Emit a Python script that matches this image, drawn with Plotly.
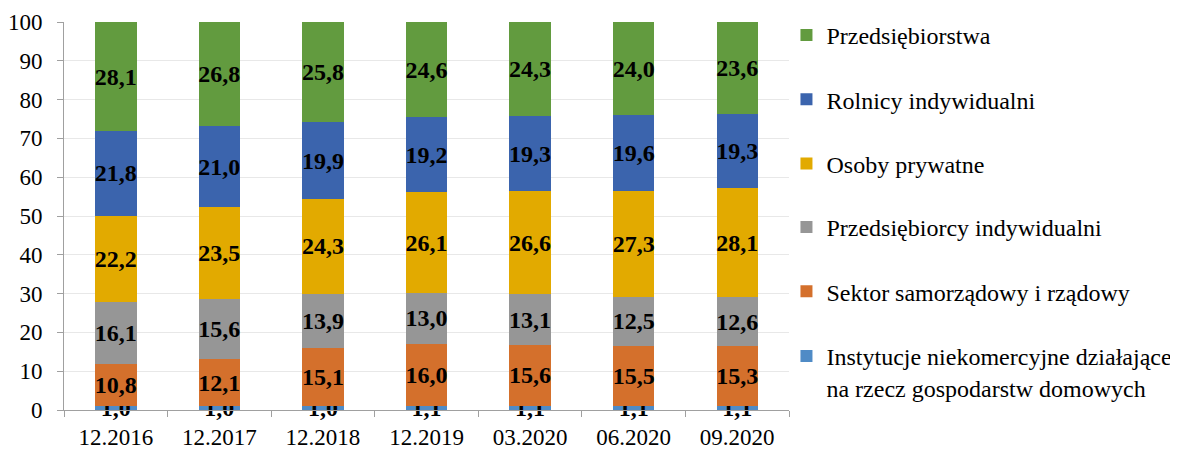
import plotly.graph_objects as go

categories = ["12.2016", "12.2017", "12.2018", "12.2019", "03.2020", "06.2020", "09.2020"]
instytucje = [1.0, 1.0, 1.0, 1.1, 1.1, 1.1, 1.1]
sektor = [10.8, 12.1, 15.1, 16.0, 15.6, 15.5, 15.3]
przedsiebiorcy = [16.1, 15.6, 13.9, 13.0, 13.1, 12.5, 12.6]
osoby = [22.2, 23.5, 24.3, 26.1, 26.6, 27.3, 28.1]
rolnicy = [21.8, 21.0, 19.9, 19.2, 19.3, 19.6, 19.3]
przedsiebiorstwa = [28.1, 26.8, 25.8, 24.6, 24.3, 24.0, 23.6]
y_ticks = [0, 10, 20, 30, 40, 50, 60, 70, 80, 90, 100]

series = [
    ("Instytucje niekomercyjne działające<br>na rzecz gospodarstw domowych", instytucje, "#4F8BC6"),
    ("Sektor samorządowy i rządowy", sektor, "#D4702C"),
    ("Przedsiębiorcy indywidualni", przedsiebiorcy, "#969696"),
    ("Osoby prywatne", osoby, "#E2AA00"),
    ("Rolnicy indywidualni", rolnicy, "#3B64AD"),
    ("Przedsiębiorstwa", przedsiebiorstwa, "#629B3F"),
]
# legend block each series is shown in (top block, middle block, bottom block)
legend_block = ["legend2", "legend3", "legend3", "legend", "legend", "legend"]

FONT = "Liberation Serif"

fig = go.Figure()
n = len(series)
for i, (name, vals, color) in enumerate(series):
    fig.add_trace(go.Bar(
        x=categories, y=vals, name=name,
        marker=dict(color=color, line=dict(width=0)),
        texttemplate="<b>%{y:.1f}</b>",
        textposition="inside", insidetextanchor="middle", textangle=0,
        constraintext="none", cliponaxis=False,
        textfont=dict(family=FONT, size=24, color="black"),
        legendgroup=f"g{i}", legendrank=n - i,
        legend=legend_block[i],
    ))

legend_common = dict(
    xanchor="left", yanchor="top", yref="container",
    traceorder="grouped", tracegroupgap=30,
    font=dict(family=FONT, size=24, color="black"),
    itemwidth=30, bgcolor="rgba(0,0,0,0)", valign="top",
)

fig.update_layout(
    barmode="stack",
    bargap=0.6,
    separators=", ",
    width=1170, height=442,
    margin=dict(l=56, r=389, t=14, b=40, autoexpand=False),
    paper_bgcolor="white", plot_bgcolor="white",
    font=dict(family=FONT, size=23, color="black"),
    showlegend=True,
    legend=dict(x=0.9965, y=0.9887, **legend_common),
    legend3=dict(x=0.9965, y=0.5543, **legend_common),
    legend2=dict(x=0.9965, y=0.2624, **legend_common),
    uniformtext=dict(mode=False),
)
fig.update_yaxes(
    range=[0, 100], tickvals=y_ticks, showgrid=True, gridcolor="#E8E8E8", gridwidth=1,
    showline=True, linecolor="#A0A0A0", ticks="outside", ticklen=6, tickcolor="#A0A0A0",
    tickfont=dict(family=FONT, size=23), zeroline=False, ticklabelstandoff=10,
)
fig.update_xaxes(
    showline=True, linecolor="#A0A0A0", ticks="outside", ticklen=6, tickcolor="#A0A0A0",
    tickson="boundaries", tickfont=dict(family=FONT, size=23), ticklabelstandoff=6,
)

fig.write_html("out.html")
